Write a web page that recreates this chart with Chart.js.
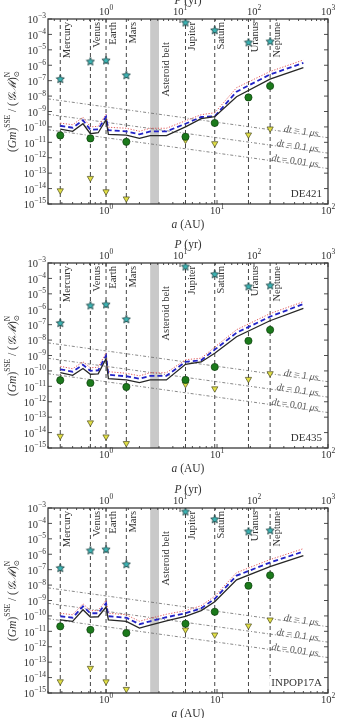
<!DOCTYPE html>
<html>
<head>
<meta charset="utf-8">
<script src="https://cdn.jsdelivr.net/npm/chart.js@4.4.0/dist/chart.umd.min.js"></script>
<style>
  html, body { margin: 0; padding: 0; background: #fff; }
  body { width: 337px; height: 718px; overflow: hidden; position: relative; }
  canvas { position: absolute; left: 0; }
</style>
</head>
<body>
<canvas id="c1" width="337" height="260" style="top:-10px"></canvas>
<canvas id="c2" width="337" height="260" style="top:234px"></canvas>
<canvas id="c3" width="337" height="260" style="top:479px"></canvas>
<script>
// planets
const planetNames = ['Mercury', 'Venus', 'Earth', 'Mars', 'Jupiter', 'Saturn', 'Uranus', 'Neptune'];
const planetA = [0.387, 0.723, 1.0, 1.524, 5.20, 9.54, 19.2, 30.1];
const planetMass = [1.3e-7, 1.8e-6, 2.1e-6, 2.3e-7, 6.0e-4, 1.9e-4, 3.1e-5, 3.6e-5];
const beltRange = [2.5, 3.0];

// sampled curves (same a grid for all panels)
const curveA = [0.387, 0.5, 0.62, 0.723, 0.85, 1.0, 1.05, 1.524, 2.0, 2.5, 3.5, 5.2, 7.2, 9.54, 15, 30, 60];

// DE421
const de421Black = [7.3e-11, 5.2e-11, 1.6e-10, 3.6e-11, 4.2e-11, 2.9e-10, 3.3e-11, 2.9e-11, 1.8e-11, 2.7e-11, 2.7e-11, 1.0e-10, 3.4e-10, 4.6e-10, 9.1e-9, 1.26e-7, 7.0e-7];
const de421Blue  = [1.19e-10, 8.9e-11, 2.7e-10, 6.5e-11, 7.0e-11, 4.6e-10, 6.1e-11, 5.2e-11, 3.3e-11, 5.1e-11, 5.1e-11, 1.6e-10, 4.4e-10, 4.9e-10, 1.93e-8, 2.5e-7, 1.42e-6];
const de421Red   = [1.78e-10, 1.38e-10, 4.2e-10, 1.0e-10, 1.1e-10, 6.7e-10, 9.5e-11, 8.2e-11, 5.2e-11, 8.2e-11, 8.2e-11, 2.5e-10, 6.2e-10, 8.3e-10, 3.5e-8, 3.9e-7, 2.2e-6];
const de421Green = [2.8e-11, 1.8e-11, null, 1.08e-11, 2.3e-11, 1.8e-10, 8.2e-9, 4.5e-8];
const de421Tri   = [7.4e-15, 4.7e-14, 6.4e-15, 2.2e-15, 1.4e-11, 8.4e-12, 3.1e-11, 7.6e-11];

// DE435
const de435Black = [7.8e-11, 5.2e-11, 1.42e-10, 6.1e-11, 6.5e-11, 6.2e-10, 3.2e-11, 2.6e-11, 1.75e-11, 2.6e-11, 2.6e-11, 2.7e-10, 3.8e-10, 1.4e-9, 1.66e-8, 1.8e-7, 1.13e-6];
const de435Blue  = [1.28e-10, 8.9e-11, 2.5e-10, 1.0e-10, 1.1e-10, 9.7e-10, 5.6e-11, 4.5e-11, 3.1e-11, 4.8e-11, 4.8e-11, 3.9e-10, 4.9e-10, 2.4e-9, 3.0e-8, 3.3e-7, 2.2e-6];
const de435Red   = [2.0e-10, 1.38e-10, 3.9e-10, 1.6e-10, 1.73e-10, 1.5e-9, 8.9e-11, 7.0e-11, 4.8e-11, 7.6e-11, 7.6e-11, 5.3e-10, 6.7e-10, 3.5e-9, 4.7e-8, 5.2e-7, 3.1e-6];
const de435Green = [2.5e-11, 1.65e-11, null, 9.1e-12, 2.6e-11, 1.8e-10, 8.9e-9, 4.6e-8];
const de435Tri   = [5.9e-15, 4.4e-14, 5.4e-15, 2.0e-15, 1.36e-11, 7.1e-12, 2.9e-11, 6.8e-11];

// INPOP17A
const inpopBlack = [5.6e-11, 4.4e-11, 2.5e-10, 8.4e-11, 8.8e-11, 3.8e-10, 5.6e-11, 4.4e-11, 1.63e-11, 2.5e-11, 4.8e-11, 9.5e-11, 2.2e-10, 8.3e-10, 2.2e-8, 1.57e-7, 8.2e-7];
const inpopBlue  = [9.5e-11, 7.6e-11, 4.2e-10, 1.49e-10, 1.49e-10, 6.7e-10, 9.5e-11, 7.6e-11, 2.9e-11, 4.5e-11, 8.2e-11, 1.49e-10, 3.1e-10, 1.3e-9, 4.1e-8, 2.9e-7, 1.49e-6];
const inpopRed   = [1.49e-10, 1.19e-10, 6.2e-10, 2.2e-10, 2.2e-10, 1.04e-9, 1.49e-10, 1.19e-10, 4.5e-11, 7.0e-11, 1.28e-10, 2.2e-10, 4.6e-10, 1.9e-9, 6.4e-8, 4.5e-7, 2.3e-6];
const inpopGreen = [2.1e-11, 1.26e-11, null, 7.7e-12, 3.1e-11, 1.86e-10, 9.1e-9, 4.3e-8];
const inpopTri   = [5.5e-15, 4.1e-14, 5.5e-15, 1.76e-15, 1.26e-11, 6.0e-12, 2.3e-11, 5.6e-11];

// time-step reference lines (end points)
const dtLabels = ['1', '0.1', '0.01'];
const dtLineA = [0.3, 100];
const dtLineVals = [[6.6e-9, 2.0e-11], [6.6e-10, 2.0e-12], [6.6e-11, 2.0e-13]];

// axes
const yRange = [1e-15, 1e-3];
const aRange = [0.3, 100];
const yTicks = [1e-15, 1e-14, 1e-13, 1e-12, 1e-11, 1e-10, 1e-9, 1e-8, 1e-7, 1e-6, 1e-5, 1e-4, 1e-3];
const aTicks = [1, 10, 100];
const pTicks = [1, 10, 100, 1000];

const SERIF = '"Liberation Serif", "DejaVu Serif", serif';
function f(size, style) { return (style || '') + ' ' + size + 'px ' + SERIF; }

// draws a list of text pieces one after another, centred on (x, y)
function drawRich(ctx, parts, x, y, align) {
  let total = 0;
  const w = parts.map(p => { ctx.font = p.font; const m = ctx.measureText(p.t).width; total += (p.adv === 0 ? 0 : m); return m; });
  let cx = align === 'right' ? x - total : (align === 'left' ? x : x - total / 2);
  ctx.textAlign = 'left';
  ctx.textBaseline = 'middle';
  parts.forEach((p, i) => {
    ctx.font = p.font;
    ctx.fillText(p.t, cx, y + (p.dy || 0));
    if (p.adv !== 0) cx += w[i];
  });
}

function powLabel(v) {
  const e = Math.round(Math.log10(v));
  return [{ t: '10', font: f(10.5) }, { t: (e < 0 ? '\u2212' : '') + Math.abs(e), font: f(7.5), dy: -4 }];
}

function minorVals(min, max) {
  const out = [];
  for (let e = Math.floor(Math.log10(min)); e <= Math.ceil(Math.log10(max)); e++) {
    for (let k = 2; k <= 9; k++) {
      const v = k * Math.pow(10, e);
      if (v > min && v < max) out.push(v);
    }
  }
  return out;
}

function starImage(size, fill, stroke) {
  const c = document.createElement('canvas');
  c.width = c.height = size;
  const g = c.getContext('2d');
  const r = size / 2 - 0.7, ri = r * 0.45, cx = size / 2, cy = size / 2 + r * 0.08;
  g.beginPath();
  for (let i = 0; i < 10; i++) {
    const ang = -Math.PI / 2 + i * Math.PI / 5;
    const rr = i % 2 ? ri : r;
    g.lineTo(cx + rr * Math.cos(ang), cy + rr * Math.sin(ang));
  }
  g.closePath();
  g.fillStyle = fill;
  g.fill();
  g.lineWidth = 0.8;
  g.strokeStyle = stroke;
  g.stroke();
  return c;
}
const starPt = starImage(10, '#3bb4b4', '#1d3c3c');

const decorPlugin = {
  id: 'decor',
  beforeDatasetsDraw(chart) {
    const { ctx, chartArea: ca, scales } = chart;
    const x0 = scales.x.getPixelForValue(beltRange[0]);
    const x1 = scales.x.getPixelForValue(beltRange[1]);
    ctx.save();
    ctx.fillStyle = '#c9c9c9';
    ctx.fillRect(x0, ca.top, x1 - x0, ca.bottom - ca.top);
    ctx.restore();
  },
  afterDraw(chart, args, opts) {
    const { ctx, chartArea: ca, scales } = chart;
    const xs = scales.x, ps = scales.p, ys = scales.y;
    ctx.save();

    // frame
    ctx.strokeStyle = '#3a3a3a';
    ctx.lineWidth = 1.3;
    ctx.strokeRect(ca.left, ca.top, ca.right - ca.left, ca.bottom - ca.top);

    // inward ticks
    ctx.lineWidth = 0.9;
    ctx.beginPath();
    yTicks.forEach(v => {
      const y = ys.getPixelForValue(v);
      ctx.moveTo(ca.left, y); ctx.lineTo(ca.left + 4, y);
      ctx.moveTo(ca.right, y); ctx.lineTo(ca.right - 4, y);
    });
    aTicks.forEach(v => { const x = xs.getPixelForValue(v); ctx.moveTo(x, ca.bottom); ctx.lineTo(x, ca.bottom - 4); });
    minorVals(xs.min, xs.max).forEach(v => { const x = xs.getPixelForValue(v); ctx.moveTo(x, ca.bottom); ctx.lineTo(x, ca.bottom - 2); });
    pTicks.forEach(v => { const x = ps.getPixelForValue(v); ctx.moveTo(x, ca.top); ctx.lineTo(x, ca.top + 4); });
    minorVals(ps.min, ps.max).forEach(v => { const x = ps.getPixelForValue(v); ctx.moveTo(x, ca.top); ctx.lineTo(x, ca.top + 2); });
    ctx.stroke();

    // tick labels
    ctx.fillStyle = '#333';
    yTicks.forEach(v => drawRich(ctx, powLabel(v), ca.left - 2, ys.getPixelForValue(v) + 1.5, 'right'));
    aTicks.forEach(v => drawRich(ctx, powLabel(v), xs.getPixelForValue(v), ca.bottom + 7, 'center'));
    pTicks.forEach(v => drawRich(ctx, powLabel(v), ps.getPixelForValue(v), ca.top - 6.5, 'center'));

    // axis titles
    const midX = (ca.left + ca.right) / 2, midY = (ca.top + ca.bottom) / 2;
    drawRich(ctx, [{ t: 'a', font: f(11.5, 'italic') }, { t: ' (AU)', font: f(11.5) }], midX, ca.bottom + 21, 'center');
    drawRich(ctx, [{ t: 'P', font: f(11.5, 'italic') }, { t: ' (yr)', font: f(11.5) }], midX, ca.top - 18, 'center');
    ctx.save();
    ctx.translate(13, midY);
    ctx.rotate(-Math.PI / 2);
    drawRich(ctx, [
      { t: '(', font: f(11.5) }, { t: 'Gm', font: f(11.5, 'italic') }, { t: ')', font: f(11.5) },
      { t: 'SSE', font: f(7.5), dy: -4.5 },
      { t: ' / (', font: f(11.5) }, { t: '\u{1D4A2}\u2133', font: f(11.5, 'italic') }, { t: ')', font: f(11.5) },
      { t: 'N', font: f(7.5), dy: -4.5, adv: 0 }, { t: '\u2299', font: f(7.5), dy: 4 }
    ], 0, 0, 'center');
    ctx.restore();

    // planet names
    ctx.fillStyle = '#333';
    ctx.font = f(10.5);
    planetNames.forEach((name, i) => {
      ctx.save();
      ctx.translate(xs.getPixelForValue(planetA[i]) + 7, ca.top + 3);
      ctx.rotate(-Math.PI / 2);
      ctx.textAlign = 'right';
      ctx.textBaseline = 'middle';
      ctx.fillText(name, 0, 0);
      ctx.restore();
    });
    ctx.save();
    ctx.translate(xs.getPixelForValue(beltRange[1]) + 7, ca.top + 23);
    ctx.rotate(-Math.PI / 2);
    ctx.textAlign = 'right';
    ctx.textBaseline = 'middle';
    ctx.fillText('Asteroid belt', 0, 0);
    ctx.restore();

    // dt labels along the dash-dot lines
    ctx.fillStyle = '#555';
    dtLabels.forEach((lab, i) => {
      const xa = xs.getPixelForValue(dtLineA[0]), xb = xs.getPixelForValue(dtLineA[1]);
      const ya = ys.getPixelForValue(dtLineVals[i][0]), yb = ys.getPixelForValue(dtLineVals[i][1]);
      const ang = Math.atan2(yb - ya, xb - xa);
      const xe = xs.getPixelForValue(82);
      const ye = ya + (yb - ya) * (xe - xa) / (xb - xa);
      ctx.save();
      ctx.translate(xe, ye - 2.5);
      ctx.rotate(ang);
      drawRich(ctx, [{ t: 'dt', font: f(10, 'italic') }, { t: ' = ' + lab + ' ', font: f(10) }, { t: '\u03bcs', font: f(10, 'italic') }], 0, 0, 'right');
      ctx.restore();
    });

    // panel name
    ctx.font = f(11);
    const tw = ctx.measureText(opts.name).width;
    ctx.fillStyle = '#fff';
    ctx.fillRect(ca.right - 6 - tw - 2, ca.bottom - 17, tw + 4, 14);
    ctx.fillStyle = '#333';
    ctx.textAlign = 'right';
    ctx.textBaseline = 'middle';
    ctx.fillText(opts.name, ca.right - 6, ca.bottom - 10);

    ctx.restore();
  }
};

function pts(xArr, yArr) {
  return xArr.map((x, i) => ({ x: x, y: yArr[i] }));
}

function makePanel(id, name, black, blue, red, green, tri) {
  const datasets = [];
  datasets.push({ data: pts(planetA, planetMass), showLine: false, pointStyle: starPt, pointRadius: 5 });
  datasets.push({ data: pts(planetA, green), showLine: false, pointStyle: 'circle', pointRadius: 3.6,
    backgroundColor: '#1b7a1b', borderColor: '#0d3d0d', borderWidth: 0.7 });
  datasets.push({ data: pts(planetA, tri), showLine: false, pointStyle: 'triangle', pointRotation: 180, pointRadius: 3.6,
    backgroundColor: '#e2e046', borderColor: '#4a4a20', borderWidth: 0.7 });
  datasets.push({ data: pts(curveA, black), showLine: true, borderColor: '#262626', borderWidth: 1.3, pointRadius: 0, tension: 0 });
  datasets.push({ data: pts(curveA, blue), showLine: true, borderColor: '#2323c8', borderWidth: 1.8, borderDash: [5, 3], pointRadius: 0, tension: 0 });
  datasets.push({ data: pts(curveA, red), showLine: true, borderColor: '#e25a5a', borderWidth: 1, borderDash: [1.2, 1.6], pointRadius: 0, tension: 0 });
  dtLineVals.forEach(v => {
    datasets.push({ data: pts(dtLineA, v), showLine: true, borderColor: '#6a6a6a', borderWidth: 0.8, borderDash: [3, 2, 1, 2], pointRadius: 0 });
  });
  planetA.forEach(a => {
    datasets.push({ data: pts([a, a], yRange), showLine: true, borderColor: '#444', borderWidth: 1, borderDash: [4, 3], pointRadius: 0 });
  });

  const hidden = { display: false };
  return new Chart(document.getElementById(id), {
    type: 'scatter',
    data: { datasets: datasets },
    options: {
      responsive: false,
      animation: false,
      devicePixelRatio: 1,
      layout: { padding: { left: 0, right: 9, top: 0, bottom: 0 } },
      plugins: { legend: hidden, tooltip: { enabled: false }, decor: { name: name } },
      scales: {
        x: {
          type: 'logarithmic', position: 'bottom', min: aRange[0], max: aRange[1],
          grid: hidden, border: hidden, ticks: { display: false },
          afterBuildTicks: s => { s.ticks = aTicks.map(v => ({ value: v })); },
          afterFit: s => { s.height = 46; }
        },
        p: {
          type: 'logarithmic', axis: 'x', position: 'top',
          min: Math.pow(aRange[0], 1.5), max: Math.pow(aRange[1], 1.5),
          grid: hidden, border: hidden, ticks: { display: false },
          afterBuildTicks: s => { s.ticks = pTicks.map(v => ({ value: v })); },
          afterFit: s => { s.height = 29; }
        },
        y: {
          type: 'logarithmic', position: 'left', min: yRange[0], max: yRange[1],
          grid: hidden, border: hidden, ticks: { display: false },
          afterBuildTicks: s => { s.ticks = yTicks.map(v => ({ value: v })); },
          afterFit: s => { s.width = 48; }
        }
      }
    },
    plugins: [decorPlugin]
  });
}

makePanel('c1', 'DE421', de421Black, de421Blue, de421Red, de421Green, de421Tri);
makePanel('c2', 'DE435', de435Black, de435Blue, de435Red, de435Green, de435Tri);
makePanel('c3', 'INPOP17A', inpopBlack, inpopBlue, inpopRed, inpopGreen, inpopTri);
</script>
</body>
</html>
